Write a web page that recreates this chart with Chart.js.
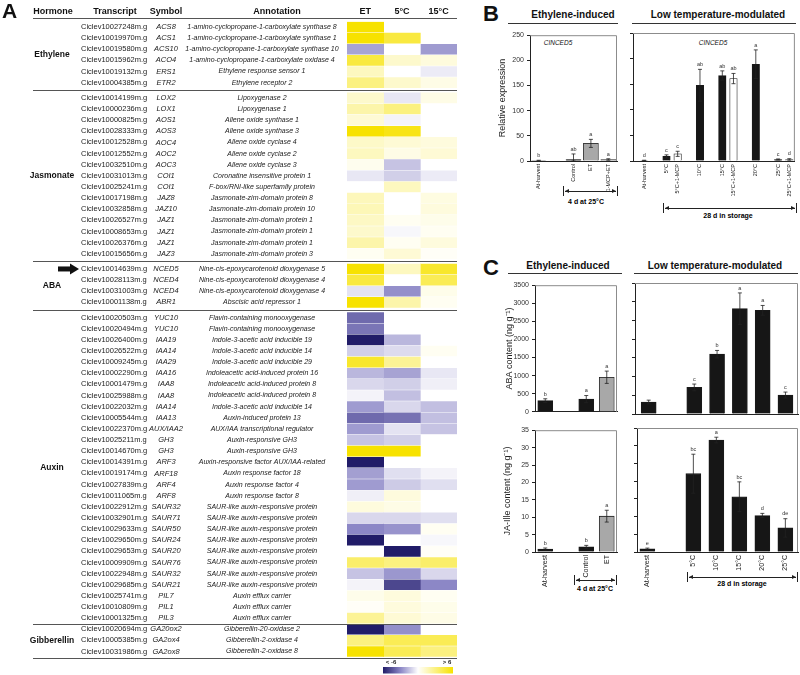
<!DOCTYPE html>
<html>
<head>
<meta charset="utf-8">
<script src="https://cdn.jsdelivr.net/npm/chart.js@4.4.1/dist/chart.umd.min.js"></script>
<style>
    body { margin: 0; background: #fff; }
    #page { position: relative; width: 800px; height: 675px; overflow: hidden; font-family: "Liberation Sans", Arial, sans-serif; color: #111; }
    #page canvas { position: absolute; }
    .lbl { position: absolute; transform: translate(-50%, -50%); white-space: nowrap; line-height: 1; }
    .panel { position: absolute; font-weight: bold; font-size: 22px; line-height: 1; }
    .head { font-weight: bold; font-size: 10px; }
    .rule { position: absolute; height: 0; border-top: 1px solid #333; }
    .gene { font-style: italic; font-size: 6.5px; }
    .note { font-weight: bold; font-size: 7px; color: #000; }
    .bracket { position: absolute; height: 10px; border-left: 1px solid #222; border-right: 1px solid #222; box-sizing: border-box; }
    .bracket::before { content: ""; position: absolute; left: 1px; right: 1px; top: 4.5px; border-top: 1px solid #222; }
    .bracket .al, .bracket .ar { position: absolute; top: 2.5px; width: 0; height: 0; border-top: 2.5px solid transparent; border-bottom: 2.5px solid transparent; }
    .bracket .al { left: 1px; border-right: 4px solid #222; }
    .bracket .ar { right: 1px; border-left: 4px solid #222; }
</style>
</head>
<body>
<div id="page">
    <canvas id="heatmap" width="470" height="675" style="left:0;top:0"></canvas>

    <div class="panel" style="left:483px;top:3px">B</div>
    <div class="lbl head" style="left:573px;top:15px">Ethylene-induced</div>
    <div class="rule" style="left:508px;top:23px;width:110px"></div>
    <div class="lbl head" style="left:718px;top:15px">Low temperature-modulated</div>
    <div class="rule" style="left:632px;top:23px;width:164px"></div>
    <div class="lbl gene" style="left:558px;top:43px">CINCED5</div>
    <div class="lbl gene" style="left:713px;top:43px">CINCED5</div>
    <div class="bracket" style="left:563px;top:186px;width:55px"><span class="al"></span><span class="ar"></span></div>
    <div class="lbl note" style="left:586px;top:201px">4 d at 25°C</div>
    <div class="bracket" style="left:663px;top:203px;width:134px"><span class="al"></span><span class="ar"></span></div>
    <div class="lbl note" style="left:728px;top:215px">28 d in storage</div>

    <div class="panel" style="left:483px;top:257px">C</div>
    <div class="lbl head" style="left:568px;top:266px">Ethylene-induced</div>
    <div class="rule" style="left:508px;top:273px;width:114px"></div>
    <div class="lbl head" style="left:715px;top:266px">Low temperature-modulated</div>
    <div class="rule" style="left:634px;top:273px;width:164px"></div>
    <div class="bracket" style="left:574px;top:575px;width:43px"><span class="al"></span><span class="ar"></span></div>
    <div class="lbl note" style="left:595px;top:588px">4 d at 25°C</div>
    <div class="bracket" style="left:687px;top:572px;width:111px"><span class="al"></span><span class="ar"></span></div>
    <div class="lbl note" style="left:742px;top:583px">28 d in storage</div>
</div>

<script>
// ---- panel A: transcripts and log2 fold changes ----
const hormones = ["Ethylene", "Jasmonate", "ABA", "Auxin", "Gibberellin"];
const hormoneCounts = [6, 15, 4, 28, 3];
const conditions = ["ET", "5°C", "15°C"];

const transcripts = [
    "Ciclev10027248m.g", "Ciclev10019970m.g", "Ciclev10019580m.g", "Ciclev10015962m.g", "Ciclev10019132m.g", "Ciclev10004385m.g",
    "Ciclev10014199m.g", "Ciclev10000236m.g", "Ciclev10000825m.g", "Ciclev10028333m.g", "Ciclev10012528m.g", "Ciclev10012552m.g",
    "Ciclev10032510m.g", "Ciclev10031013m.g", "Ciclev10025241m.g", "Ciclev10017198m.g", "Ciclev10032858m.g", "Ciclev10026527m.g",
    "Ciclev10008653m.g", "Ciclev10026376m.g", "Ciclev10015656m.g",
    "Ciclev10014639m.g", "Ciclev10028113m.g", "Ciclev10031003m.g", "Ciclev10001138m.g",
    "Ciclev10020503m.g", "Ciclev10020494m.g", "Ciclev10026400m.g", "Ciclev10026522m.g", "Ciclev10009245m.g", "Ciclev10002290m.g",
    "Ciclev10001479m.g", "Ciclev10025988m.g", "Ciclev10022032m.g", "Ciclev10005544m.g", "Ciclev10022370m.g", "Ciclev10025211m.g",
    "Ciclev10014670m.g", "Ciclev10014391m.g", "Ciclev10019174m.g", "Ciclev10027839m.g", "Ciclev10011065m.g", "Ciclev10022912m.g",
    "Ciclev10032901m.g", "Ciclev10029633m.g", "Ciclev10029650m.g", "Ciclev10029653m.g", "Ciclev10009909m.g", "Ciclev10022948m.g",
    "Ciclev10029685m.g", "Ciclev10025741m.g", "Ciclev10010809m.g", "Ciclev10001325m.g",
    "Ciclev10020694m.g", "Ciclev10005385m.g", "Ciclev10031986m.g"
];

const symbols = [
    "ACS8", "ACS1", "ACS10", "ACO4", "ERS1", "ETR2",
    "LOX2", "LOX1", "AOS1", "AOS3", "AOC4", "AOC2", "AOC3", "COI1", "COI1", "JAZ8", "JAZ10", "JAZ1", "JAZ1", "JAZ1", "JAZ3",
    "NCED5", "NCED4", "NCED4", "ABR1",
    "YUC10", "YUC10", "IAA19", "IAA14", "IAA29", "IAA16", "IAA8", "IAA8", "IAA14", "IAA13", "AUX/IAA2", "GH3", "GH3",
    "ARF3", "ARF18", "ARF4", "ARF8", "SAUR32", "SAUR71", "SAUR50", "SAUR24", "SAUR20", "SAUR76", "SAUR32", "SAUR21",
    "PIL7", "PIL1", "PIL3",
    "GA20ox2", "GA2ox4", "GA2ox8"
];

const annotations = [
    "1-amino-cyclopropane-1-carboxylate synthase 8", "1-amino-cyclopropane-1-carboxylate synthase 1",
    "1-amino-cyclopropane-1-carboxylate synthase 10", "1-amino-cyclopropane-1-carboxylate oxidase 4",
    "Ethylene response sensor 1", "Ethylene receptor 2",
    "Lipoxygenase 2", "Lipoxygenase 1", "Allene oxide synthase 1", "Allene oxide synthase 3", "Allene oxide cyclase 4",
    "Allene oxide cyclase 2", "Allene oxide cyclase 3", "Coronatine insensitive protein 1", "F-box/RNI-like superfamily protein",
    "Jasmonate-zim-domain protein 8", "Jasmonate-zim-domain protein 10", "Jasmonate-zim-domain protein 1",
    "Jasmonate-zim-domain protein 1", "Jasmonate-zim-domain protein 1", "Jasmonate-zim-domain protein 3",
    "Nine-cis-epoxycarotenoid dioxygenase 5", "Nine-cis-epoxycarotenoid dioxygenase 4",
    "Nine-cis-epoxycarotenoid dioxygenase 4", "Abscisic acid repressor 1",
    "Flavin-containing monooxygenase", "Flavin-containing monooxygenase", "Indole-3-acetic acid inducible 19",
    "Indole-3-acetic acid inducible 14", "Indole-3-acetic acid inducible 29", "Indoleacetic acid-induced protein 16",
    "Indoleacetic acid-induced protein 8", "Indoleacetic acid-induced protein 8", "Indole-3-acetic acid inducible 14",
    "Auxin-induced protein 13", "AUX/IAA transcriptional regulator", "Auxin-responsive GH3", "Auxin-responsive GH3",
    "Auxin-responsive factor AUX/IAA-related", "Auxin response factor 18", "Auxin response factor 4", "Auxin response factor 8",
    "SAUR-like auxin-responsive protein", "SAUR-like auxin-responsive protein", "SAUR-like auxin-responsive protein",
    "SAUR-like auxin-responsive protein", "SAUR-like auxin-responsive protein", "SAUR-like auxin-responsive protein",
    "SAUR-like auxin-responsive protein", "SAUR-like auxin-responsive protein",
    "Auxin efflux carrier", "Auxin efflux carrier", "Auxin efflux carrier",
    "Gibberellin-20-oxidase 2", "Gibberellin-2-oxidase 4", "Gibberellin-2-oxidase 8"
];

const etValues = [
    6, 6, -2.3, 4.5, 1.5, 3,
    1.2, 2, 1, 6, 1.3, 1.5, 0.4, -0.6, 0, 1.6, 1.7, 1.4, 1.2, 2, 0.3,
    6, 4.5, -0.7, 6,
    -3.8, -3.5, -6, -1.2, 5, -1.8, -1, -0.3, -2.5, -3.8, -2.5, -1.5, 6, -6, -2.4, -2.5, -0.4, 0.8,
    -1, -3, -6, 0, 3.5, -1.5, -0.3, 0.5, 0.2, 2.5,
    -6, 3, 6
];
const c5Values = [
    0, 4.5, 0, 1.2, 0, 1.2,
    -0.6, 3, -0.3, 5.5, 1, 0.6, -1.5, -1.2, 1.5, 0, 0, 0.3, -0.2, 0.3, 1,
    1.5, 0, -2.8, 2,
    0, 0, -1.8, -0.9, 2.5, -2.3, -1.2, -1.6, -1, -3.6, -0.7, -1.2, 6, 0, -0.8, -1.3, 0.8, 0.6,
    -1, -2.7, 0, -6, 3, -2.6, -4.8, 0.8, 0.8, 1,
    -2.8, 4, 4
];
const c15Values = [
    0, 0, -2.5, 0.8, -0.5, 0.6,
    0.6, 0, 0, 0, 0.8, 1, 0, -0.5, 0, 0.7, 0.8, 0.5, 0.3, 0.8, 0.2,
    5, 4, 0.5, 0.3,
    0, 0, 0, 0.3, 0, -0.6, -0.4, 0, -1.6, -1.6, -1.5, 0, 0, 0, -0.3, -0.8, 0, 0,
    -0.8, 0.3, -0.2, 0.2, 3.5, -1, -3, 0.3, 0.5, 0.6,
    0, 4, 3
];

// ---- panel B: CINCED5 relative expression ----
const bEthLabels = ["At-harvest", "", "Control", "ET", "1-MCP+ET"];
const bEthValues = [1, null, 3, 35, 3];
const bEthErrors = [0.5, null, 11, 8, 1.5];
const bEthLetters = ["b", "", "ab", "a", "a"];

const bLowLabels = ["At-harvest", "", "5°C", "5°C+1-MCP", "", "10°C", "", "15°C", "15°C+1-MCP", "", "20°C", "", "25°C", "25°C+1-MCP"];
const bLowValues = [1, null, 9, 14, null, 148, null, 167, 161, null, 189, null, 3, 3];
const bLowErrors = [0.5, null, 3, 5, null, 31, null, 9, 10, null, 28, null, 1, 1.5];
const bLowLetters = ["d", "", "c", "c", "", "ab", "", "ab", "ab", "", "a", "", "c", "d"];

// ---- panel C: ABA and JA-Ile content ----
const cEthLabels = ["At-harvest", "", "Control", "ET"];
const cLowLabels = ["At-harvest", "", "5°C", "10°C", "15°C", "20°C", "25°C"];

const abaEthValues = [310, null, 350, 955];
const abaEthErrors = [50, null, 100, 170];
const abaEthLetters = ["b", "", "a", "a"];
const abaLowValues = [320, null, 710, 1598, 2815, 2770, 506];
const abaLowErrors = [50, null, 90, 100, 420, 130, 80];
const abaLowLetters = ["", "", "c", "b", "a", "a", "c"];

const jaEthValues = [0.85, null, 1.5, 10.3];
const jaEthErrors = [0.3, null, 0.4, 1.7];
const jaEthLetters = ["b", "", "b", "a"];
const jaLowValues = [0.9, null, 22.1, 31.6, 15.6, 10.3, 6.8];
const jaLowErrors = [0.2, null, 5.5, 0.8, 4.2, 0.6, 2.6];
const jaLowLetters = ["e", "", "bc", "a", "bc", "d", "de"];

const FONT = '"Liberation Sans", Arial, sans-serif';
Chart.defaults.font.family = FONT;
Chart.defaults.color = "#222";

// ---------- heatmap ----------
const ROW_PX = 11.13;
const FIRST_ROW_Y = 27;
const SECTION_GAP = [0.37, 0.37, 0.37, 0];

const sectionOf = [];
hormoneCounts.forEach((n, s) => { for (let k = 0; k < n; k++) sectionOf.push(s); });

function rowPos(i) {
    let p = i;
    for (let s = 0; s < sectionOf[i]; s++) p += SECTION_GAP[s];
    return p;
}

function mix(a, b, t) {
    return a.map((v, i) => Math.round(v + (b[i] - v) * t));
}

function cellColor(v) {
    const t = Math.max(-1, Math.min(1, v / 6));
    let c;
    if (t >= 0) c = mix([255, 255, 255], [247, 226, 0], t);
    else if (t > -0.5) c = mix([255, 255, 255], [140, 135, 198], -t * 2);
    else c = mix([140, 135, 198], [33, 28, 104], (-t - 0.5) * 2);
    return `rgb(${c.join(",")})`;
}

const tableText = {
    id: "tableText",
    afterDraw(chart) {
        const ctx = chart.ctx;
        const y = chart.scales.y;
        const x = chart.scales.x;
        const area = chart.chartArea;
        const rowY = i => y.getPixelForValue(rowPos(i));
        ctx.save();

        ctx.fillStyle = "#111";
        ctx.textBaseline = "alphabetic";
        ctx.textAlign = "left";
        ctx.font = `bold 21px ${FONT}`;
        ctx.fillText("A", 2, 18);

        // column heads
        ctx.textBaseline = "middle";
        ctx.textAlign = "center";
        ctx.font = `bold 9px ${FONT}`;
        ctx.fillText("Hormone", 53, 12);
        ctx.fillText("Transcript", 115, 12);
        ctx.fillText("Symbol", 166, 12);
        ctx.fillText("Annotation", 277, 12);
        conditions.forEach((c, k) => ctx.fillText(c, x.getPixelForValue(k + 0.5), 12));

        // rules
        ctx.strokeStyle = "#555";
        ctx.lineWidth = 1;
        const rule = yy => {
            ctx.beginPath();
            ctx.moveTo(33, Math.round(yy) + 0.5);
            ctx.lineTo(area.right, Math.round(yy) + 0.5);
            ctx.stroke();
        };
        rule(18);
        let first = 0;
        hormoneCounts.forEach((n, s) => {
            const last = first + n - 1;
            if (s < hormoneCounts.length - 1) rule((rowY(last) + rowY(last + 1)) / 2);
            else rule(rowY(last) + 6.5);
            ctx.font = `bold 8.5px ${FONT}`;
            ctx.textAlign = "center";
            ctx.fillStyle = "#111";
            ctx.fillText(hormones[s], 52, (rowY(first) + rowY(last)) / 2);
            first = last + 1;
        });

        // row texts
        ctx.fillStyle = "#222";
        transcripts.forEach((t, i) => {
            const yy = rowY(i);
            ctx.font = `7.5px ${FONT}`;
            ctx.textAlign = "left";
            ctx.fillText(t, 81, yy, 68);
            ctx.font = `italic 7.5px ${FONT}`;
            ctx.textAlign = "center";
            ctx.fillText(symbols[i], 166, yy, 34);
            ctx.font = `italic 7px ${FONT}`;
            ctx.fillText(annotations[i], 262, yy, 160);
        });

        // arrow pointing at NCED5
        const ay = rowY(symbols.indexOf("NCED5"));
        ctx.fillStyle = "#111";
        ctx.fillRect(58, ay - 2.5, 13, 5);
        ctx.beginPath();
        ctx.moveTo(70, ay - 5.5);
        ctx.lineTo(79, ay);
        ctx.lineTo(70, ay + 5.5);
        ctx.closePath();
        ctx.fill();

        // colour key
        const g = ctx.createLinearGradient(383, 0, 453, 0);
        for (let s = 0; s <= 12; s++) g.addColorStop(s / 12, cellColor(-6 + s));
        ctx.fillStyle = g;
        ctx.fillRect(383, 667, 70, 6.5);
        ctx.fillStyle = "#222";
        ctx.font = `bold 6px ${FONT}`;
        ctx.textAlign = "center";
        ctx.fillText("< -6", 391, 662);
        ctx.fillText("> 6", 447, 662);
        ctx.restore();
    }
};

function renderHeatmap() {
    const lastPos = rowPos(transcripts.length - 1);
    const padTop = FIRST_ROW_Y - ROW_PX / 2;
    const padBottom = 675 - (padTop + (lastPos + 1) * ROW_PX);
    const columns = [etValues, c5Values, c15Values];

    new Chart(document.getElementById("heatmap"), {
        type: "bar",
        data: {
            datasets: conditions.map((c, k) => ({
                label: c,
                data: transcripts.map((t, i) => ({ x: [k, k + 1], y: rowPos(i) })),
                backgroundColor: ctx => cellColor(columns[k][ctx.dataIndex]),
                borderWidth: 0,
                grouped: false,
                barThickness: 10
            }))
        },
        options: {
            indexAxis: "y",
            responsive: false,
            animation: false,
            events: [],
            layout: { padding: { left: 347, right: 13, top: padTop, bottom: padBottom } },
            plugins: { legend: { display: false }, tooltip: { enabled: false } },
            scales: {
                x: { type: "linear", min: 0, max: 3, display: false },
                y: { type: "linear", min: -0.5, max: lastPos + 0.5, reverse: true, offset: false, display: false }
            }
        },
        plugins: [tableText]
    });
}

// ---------- bar panels ----------
function fillFor(label) {
    if (label === "ET" || label === "1-MCP+ET") return "#a8a8a8";
    if (label.includes("1-MCP")) return "#ffffff";
    return "#161616";
}

const frame = {
    id: "frame",
    afterDraw(chart) {
        const { ctx, chartArea: a } = chart;
        ctx.save();
        ctx.strokeStyle = "#8c8c8c";
        ctx.lineWidth = 1;
        ctx.beginPath();
        ctx.moveTo(a.left, a.top + 0.5);
        ctx.lineTo(a.right - 0.5, a.top + 0.5);
        ctx.lineTo(a.right - 0.5, a.bottom);
        ctx.stroke();
        ctx.restore();
    }
};

const errorBars = {
    id: "errorBars",
    afterDatasetsDraw(chart) {
        const ctx = chart.ctx;
        const y = chart.scales.y;
        const ds = chart.data.datasets[0];
        const meta = chart.getDatasetMeta(0);
        ctx.save();
        ctx.strokeStyle = "#222";
        ctx.lineWidth = 0.8;
        ctx.fillStyle = "#333";
        ctx.font = `5.5px ${FONT}`;
        ctx.textAlign = "center";
        ctx.textBaseline = "bottom";
        meta.data.forEach((bar, i) => {
            const raw = ds.data[i];
            const err = ds.errors[raw.x] || 0;
            const top = y.getPixelForValue(raw.y + err);
            const bot = y.getPixelForValue(Math.max(0, raw.y - err));
            if (err) {
                ctx.beginPath();
                ctx.moveTo(bar.x, bot);
                ctx.lineTo(bar.x, top);
                ctx.moveTo(bar.x - 2, top);
                ctx.lineTo(bar.x + 2, top);
                ctx.moveTo(bar.x - 2, bot);
                ctx.lineTo(bar.x + 2, bot);
                ctx.stroke();
            }
            const letter = ds.letters[raw.x];
            if (letter) ctx.fillText(letter, bar.x, top - 2);
        });
        ctx.restore();
    }
};

function renderBarPanel(o) {
    const canvas = document.createElement("canvas");
    canvas.width = o.yWidth + o.areaW + o.padRight;
    canvas.height = o.padTop + o.areaH + o.xHeight;
    canvas.style.left = (o.areaLeft - o.yWidth) + "px";
    canvas.style.top = (o.areaTop - o.padTop) + "px";
    document.getElementById("page").appendChild(canvas);

    const points = o.labels
        .map((l, k) => ({ x: k, y: o.values[k] }))
        .filter(d => d.y !== null && d.y !== undefined);

    new Chart(canvas, {
        type: "bar",
        data: {
            datasets: [{
                data: points,
                errors: o.errors,
                letters: o.letters,
                backgroundColor: ctx => fillFor(o.labels[ctx.raw.x]),
                borderColor: "#1a1a1a",
                borderWidth: 0.8,
                barThickness: o.barW
            }]
        },
        options: {
            responsive: false,
            animation: false,
            events: [],
            layout: { padding: { top: o.padTop, right: o.padRight, left: 0, bottom: 0 } },
            plugins: { legend: { display: false }, tooltip: { enabled: false } },
            scales: {
                x: {
                    type: "linear",
                    min: o.xMin,
                    max: o.xMax,
                    offset: false,
                    grid: { display: false, drawTicks: false, tickLength: 0 },
                    border: { color: "#222", width: 1 },
                    afterBuildTicks: s => { s.ticks = o.labels.map((l, k) => ({ value: k })); },
                    ticks: {
                        display: o.showX,
                        autoSkip: false,
                        minRotation: 90,
                        maxRotation: 90,
                        padding: 3,
                        color: "#222",
                        font: { size: o.xFont },
                        callback: v => o.labels[v] || ""
                    },
                    afterFit: s => { s.height = o.xHeight; }
                },
                y: {
                    min: 0,
                    max: o.yMax,
                    grid: { drawOnChartArea: false, tickLength: 3, color: "#222" },
                    border: { color: "#222", width: 1 },
                    ticks: { stepSize: o.yStep, display: o.showY, padding: 3, color: "#333", font: { size: 7 }, callback: v => String(v) },
                    title: { display: !!o.yTitle, text: o.yTitle, padding: 2, color: "#222", font: { size: 9 } },
                    afterFit: s => { s.width = o.yWidth; }
                }
            }
        },
        plugins: [frame, errorBars]
    });
}

renderHeatmap();

renderBarPanel({
    labels: bEthLabels, values: bEthValues, errors: bEthErrors, letters: bEthLetters,
    areaLeft: 530, areaTop: 33, areaW: 87, areaH: 128, yWidth: 35, padTop: 5, padRight: 3, xHeight: 42,
    xMin: -0.5, xMax: 4.5, yMax: 250, yStep: 50, yTitle: "Relative expression",
    showY: true, showX: true, xFont: 5.5, barW: 15
});
renderBarPanel({
    labels: bLowLabels, values: bLowValues, errors: bLowErrors, letters: bLowLetters,
    areaLeft: 633, areaTop: 33, areaW: 163, areaH: 128, yWidth: 6, padTop: 5, padRight: 3, xHeight: 42,
    xMin: -1, xMax: 13.5, yMax: 250, yStep: 50, yTitle: "",
    showY: false, showX: true, xFont: 5.5, barW: 7.5
});
renderBarPanel({
    labels: cEthLabels, values: abaEthValues, errors: abaEthErrors, letters: abaEthLetters,
    areaLeft: 535, areaTop: 283, areaW: 82, areaH: 131, yWidth: 33, padTop: 5, padRight: 3, xHeight: 5,
    xMin: -0.5, xMax: 3.5, yMax: 3500, yStep: 500, yTitle: "ABA content (ng g⁻¹)",
    showY: true, showX: false, xFont: 7, barW: 15
});
renderBarPanel({
    labels: cLowLabels, values: abaLowValues, errors: abaLowErrors, letters: abaLowLetters,
    areaLeft: 635, areaTop: 283, areaW: 163, areaH: 131, yWidth: 6, padTop: 5, padRight: 2, xHeight: 5,
    xMin: -0.6, xMax: 6.55, yMax: 3500, yStep: 500, yTitle: "",
    showY: false, showX: false, xFont: 7, barW: 15
});
renderBarPanel({
    labels: cEthLabels, values: jaEthValues, errors: jaEthErrors, letters: jaEthLetters,
    areaLeft: 535, areaTop: 428, areaW: 82, areaH: 124, yWidth: 35, padTop: 5, padRight: 3, xHeight: 45,
    xMin: -0.5, xMax: 3.5, yMax: 35, yStep: 5, yTitle: "JA-Ille content (ng g⁻¹)",
    showY: true, showX: true, xFont: 7, barW: 15
});
renderBarPanel({
    labels: cLowLabels, values: jaLowValues, errors: jaLowErrors, letters: jaLowLetters,
    areaLeft: 637, areaTop: 428, areaW: 161, areaH: 124, yWidth: 6, padTop: 5, padRight: 2, xHeight: 45,
    xMin: -0.45, xMax: 6.55, yMax: 35, yStep: 5, yTitle: "",
    showY: false, showX: true, xFont: 7, barW: 15
});
</script>
</body>
</html>
